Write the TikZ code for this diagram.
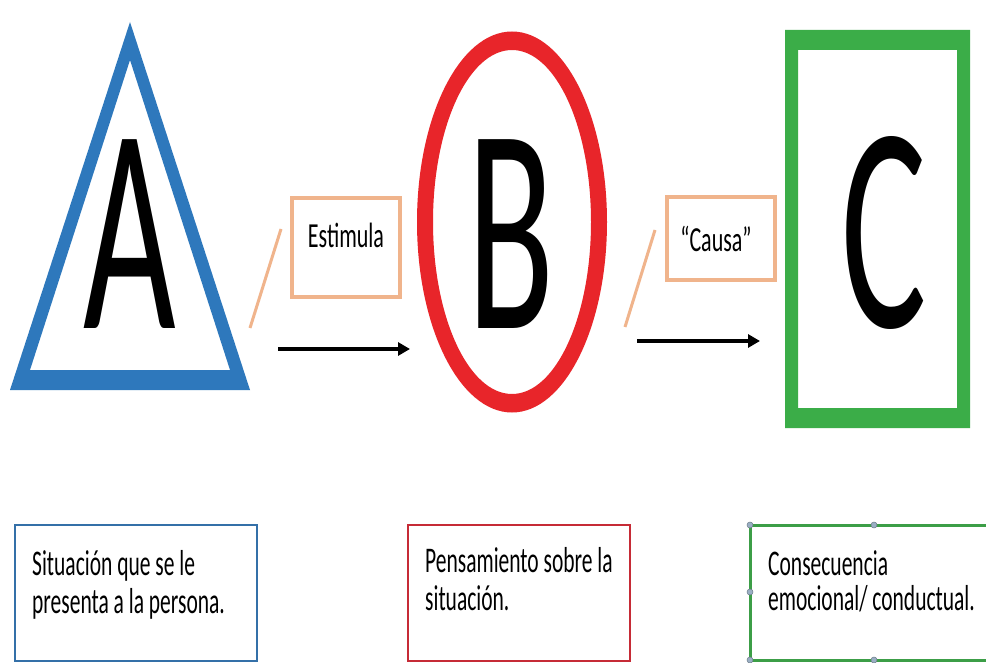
\documentclass[tikz,border=0pt]{standalone}
\usepackage{fontspec}
\setmainfont{Carlito}
\usepackage{graphicx}
\usetikzlibrary{arrows.meta}
\definecolor{triblue}{HTML}{2E78BC}
\definecolor{ellred}{HTML}{E8252A}
\definecolor{rectgreen}{HTML}{3BAD48}
\definecolor{tan}{HTML}{F0B48C}
\definecolor{boxblue}{HTML}{3470A8}
\definecolor{boxred}{HTML}{C62B36}
\definecolor{boxgreen}{HTML}{3C9E47}
\definecolor{handle}{HTML}{9AAFC4}
\newcommand{\tallbox}[2]{\scalebox{1}[#1]{#2}}
\begin{document}
\begin{tikzpicture}[x=1pt,y=-1pt,
  bigletter/.style={inner sep=0pt, anchor=base, font=\fontsize{160}{160}\selectfont},
  tanlabel/.style={inner sep=0pt, anchor=base, font=\fontsize{22}{24}\selectfont},
  tanbox/.style={draw=tan, line width=3.5pt},
  tanline/.style={draw=tan, line width=3pt},
  flowarrow/.style={draw=black, line width=3.5pt, -{Triangle[length=12pt,width=13pt]}},
  bottomtext/.style={inner sep=0pt, anchor=base west, font=\fontsize{21.5}{24}\selectfont},
  handledot/.style={circle, fill=handle, draw=handle!70!black, line width=0.5pt, inner sep=0pt, minimum size=6pt}
]
\useasboundingbox (0,0) rectangle (986,663);
\clip (0,0) rectangle (986,663);
\fill[white] (0,0) rectangle (986,663);

% Triangle A
\fill[triblue, even odd rule]
  (130,22) -- (10,390) -- (250,390) -- cycle
  (130,60) -- (30,370) -- (230,370) -- cycle;
\node[bigletter] (A) at (129.5,328) {\tallbox{1.84}{A}};

% Ellipse B
\fill[ellred, even odd rule]
  (512,222) ellipse [x radius=95pt, y radius=190.5pt]
  (512,222) ellipse [x radius=79pt, y radius=172pt];
\node[bigletter] (B) at (511,328) {\tallbox{1.84}{B}};

% Rectangle C
\fill[rectgreen, even odd rule]
  (785,30) rectangle (970,428)
  (798,50) rectangle (957,408);
\node[bigletter] (C) at (884,327) {\tallbox{1.84}{C}};

% Estimula
\node[tanbox, minimum width=108pt, minimum height=99pt, inner sep=0pt] (estbox) at (346,247.5) {};
\node[tanlabel] (est) at (346,248) {\tallbox{1.6}{Estimula}};
\coordinate (t1a) at (250,328);
\coordinate (t1b) at (281,229);
\draw[tanline] (t1a) -- (t1b);
\coordinate (a1s) at (278,349);
\coordinate (a1e) at (410,349);
\draw[flowarrow] (a1s) -- (a1e);

% Causa
\node[tanbox, minimum width=108pt, minimum height=83pt, inner sep=0pt] (caubox) at (721,238.5) {};
\node[tanlabel] (cau) at (716,252) {\tallbox{1.6}{“Causa”}};
\coordinate (t2a) at (625,327);
\coordinate (t2b) at (655,230);
\draw[tanline] (t2a) -- (t2b);
\coordinate (a2s) at (637,341);
\coordinate (a2e) at (760,341);
\draw[flowarrow] (a2s) -- (a2e);

% Bottom boxes
\draw[boxblue, line width=2.6pt] (15,525) rectangle (257,661);
\node[bottomtext] (s1) at (32,575) {\tallbox{1.68}{Situación que se le}};
\node[bottomtext] (s2) at (32,613) {\tallbox{1.68}{presenta a la persona.}};

\draw[boxred, line width=2.6pt] (408,525) rectangle (630,661);
\node[bottomtext] (p1) at (425,572) {\tallbox{1.68}{Pensamiento sobre la}};
\node[bottomtext] (p2) at (425,610) {\tallbox{1.68}{situación.}};

\draw[boxgreen, line width=3pt] (750,525) rectangle (1000,660);
\node[bottomtext] (c1) at (768,575) {\tallbox{1.68}{Consecuencia}};
\node[bottomtext] (c2) at (768,610) {\tallbox{1.68}{emocional/ conductual.}};
\node[handledot] (h1) at (750,525) {};
\node[handledot] (h2) at (874,525) {};
\node[handledot] (h3) at (750,592) {};
\node[handledot] (h4) at (874,660) {};
\node[handledot] (h5) at (750,660) {};
\end{tikzpicture}
\end{document}
